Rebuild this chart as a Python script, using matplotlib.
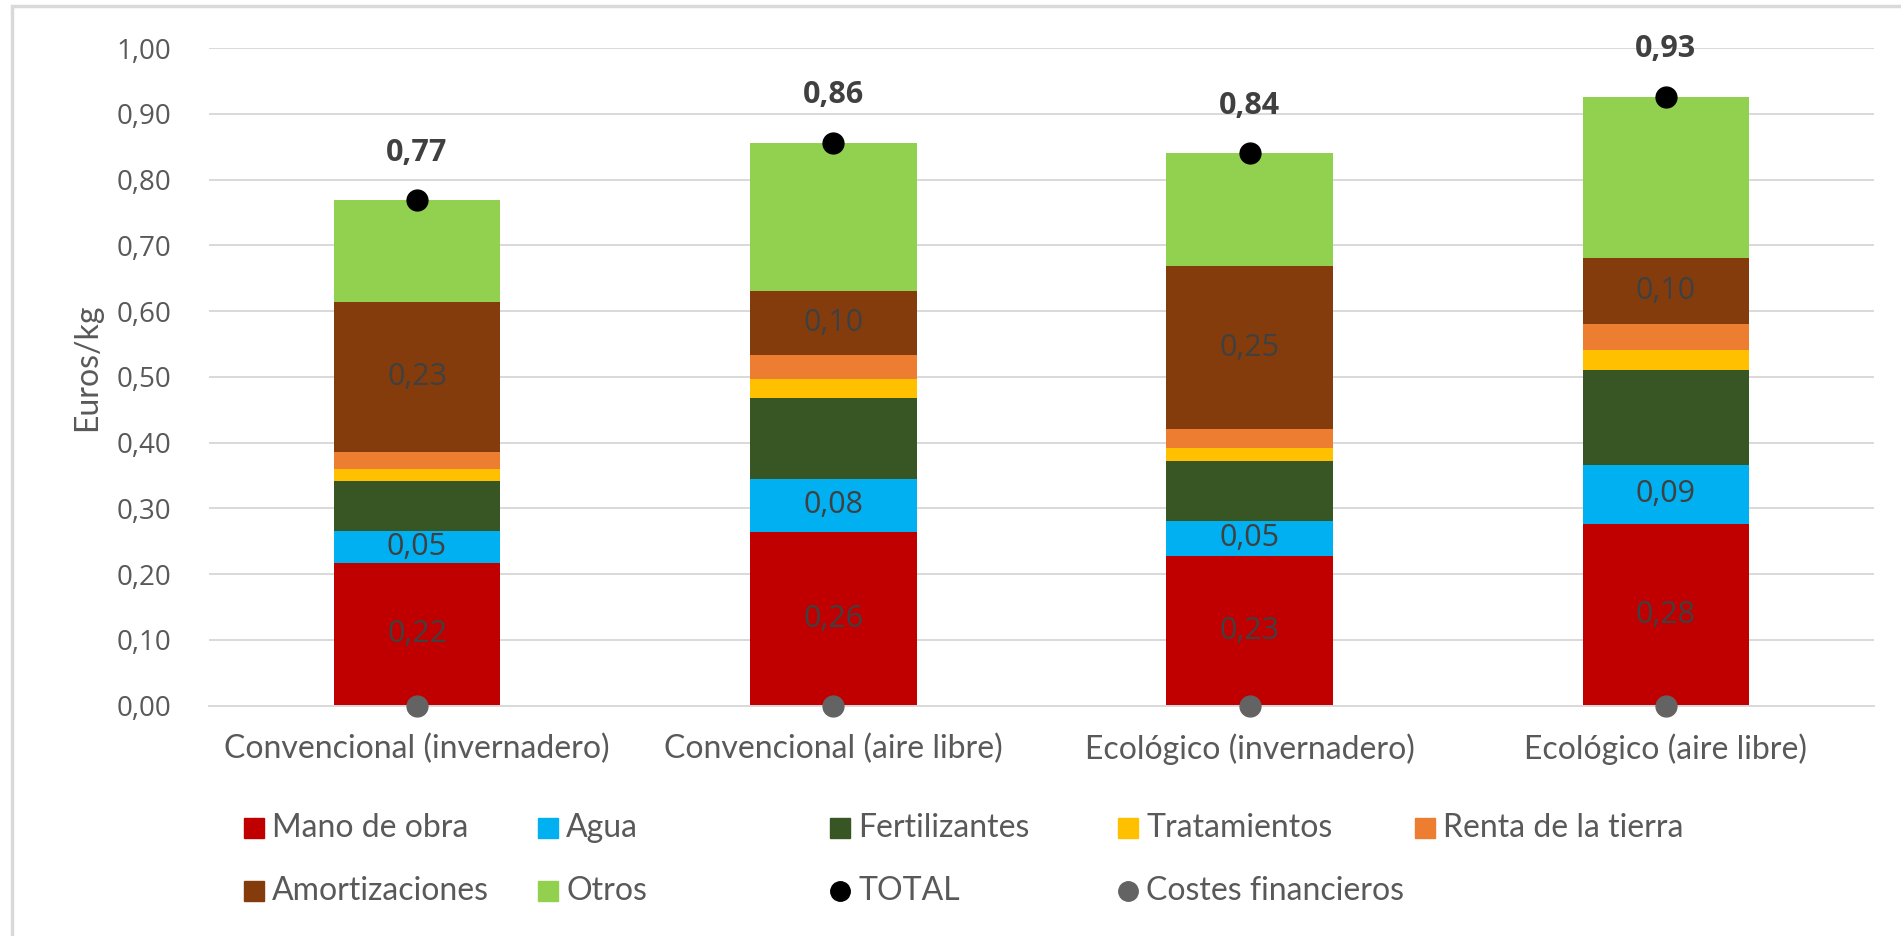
import numpy as np
import matplotlib.pyplot as plt
from matplotlib.patches import Rectangle
from matplotlib.lines import Line2D

categorias = ['Convencional (invernadero)', 'Convencional (aire libre)',
              'Ecológico (invernadero)', 'Ecológico (aire libre)']
mano_obra = [0.217, 0.264, 0.228, 0.276]
agua = [0.048, 0.081, 0.053, 0.090]
fertilizantes = [0.077, 0.123, 0.091, 0.145]
tratamientos = [0.018, 0.028, 0.019, 0.029]
renta = [0.025, 0.037, 0.029, 0.041]
amortizaciones = [0.228, 0.097, 0.248, 0.100]
otros = [0.156, 0.226, 0.172, 0.245]
total = [0.769, 0.856, 0.840, 0.926]
costes_financieros = [0.0, 0.0, 0.0, 0.0]

series = [('Mano de obra', mano_obra, '#C00000', True),
          ('Agua', agua, '#00B0F0', True),
          ('Fertilizantes', fertilizantes, '#375623', False),
          ('Tratamientos', tratamientos, '#FFC000', False),
          ('Renta de la tierra', renta, '#ED7D31', False),
          ('Amortizaciones', amortizaciones, '#843C0C', True),
          ('Otros', otros, '#92D050', False)]

txt = '#595959'
lab = '#404040'
fuente = 'Lato'
fuente_num = 'Open Sans'

fig = plt.figure(figsize=(19.01, 9.36), dpi=100)
ax = fig.add_axes([0.1099, 0.2462, 0.8759, 0.7025])

x = np.arange(len(categorias))
base = np.zeros(len(categorias))
for nombre, vals, color, etiqueta in series:
    vals = np.array(vals)
    ax.bar(x, vals, 0.40, bottom=base, color=color, zorder=2)
    if etiqueta:
        for xi, b, v in zip(x, base, vals):
            ax.text(xi, b + v / 2, '{:.2f}'.format(v).replace('.', ','),
                    ha='center', va='center', fontsize=22, color=lab,
                    family=fuente_num, zorder=3)
    base += vals

ax.plot(x, total, 'o', color='black', markersize=15, zorder=4)
ax.plot(x, costes_financieros, 'o', color='#636363', markersize=15,
        zorder=4, clip_on=False)
for xi, t in zip(x, total):
    ax.annotate('{:.2f}'.format(t).replace('.', ','), (xi, t),
                xytext=(0, 34), textcoords='offset points', ha='center',
                va='center', fontsize=22, fontweight='bold', color=lab,
                family=fuente_num)

ax.set_xlim(-0.5, 3.5)
ax.set_ylim(0, 1.0)
ax.set_yticks(np.arange(0, 1.01, 0.1))
ax.set_yticklabels(['{:.2f}'.format(v).replace('.', ',') for v in np.arange(0, 1.01, 0.1)],
                   family=fuente_num, fontsize=20, color=txt)
ax.set_xticks(x)
ax.set_xticklabels(categorias, family=fuente, fontsize=23, color=txt)
ax.tick_params(axis='both', length=0)
ax.tick_params(axis='y', pad=27)
ax.tick_params(axis='x', pad=20)
ax.grid(axis='y', color='#d9d9d9', linewidth=1.4, zorder=0)
ax.set_axisbelow(True)
for s in ['top', 'right', 'left']:
    ax.spines[s].set_visible(False)
ax.spines['bottom'].set_color('#d9d9d9')
ax.spines['bottom'].set_linewidth(1.4)
ax.set_ylabel('Euros/kg', family=fuente, fontsize=23, color=txt)
ax.yaxis.set_label_coords(-0.064, 0.515)

# marco del gráfico
fig.patches.append(Rectangle((12 / 1901, -0.1), 1.2, (936 - 6) / 936 + 0.1,
                             transform=fig.transFigure, fill=False,
                             edgecolor='#d9d9d9', linewidth=2.5))

# leyenda manual (5 columnas, 2 filas)
col_x = [254, 548, 840, 1128, 1425]
fila_y = [828, 891]
entradas = [(s[0], s[2], 's') for s in series] + \
           [('TOTAL', 'black', 'o'), ('Costes financieros', '#636363', 'o')]
for i, (nombre, color, m) in enumerate(entradas):
    cx = col_x[i % 5] / 1901
    cy = 1 - fila_y[i // 5] / 936
    fig.add_artist(Line2D([cx], [cy], marker=m, color=color, markersize=14,
                          linestyle='none', transform=fig.transFigure))
    fig.text(cx + 18 / 1901, cy, nombre, ha='left', va='center',
             family=fuente, fontsize=23, color=txt)

fig.savefig('out.png', dpi=100)
